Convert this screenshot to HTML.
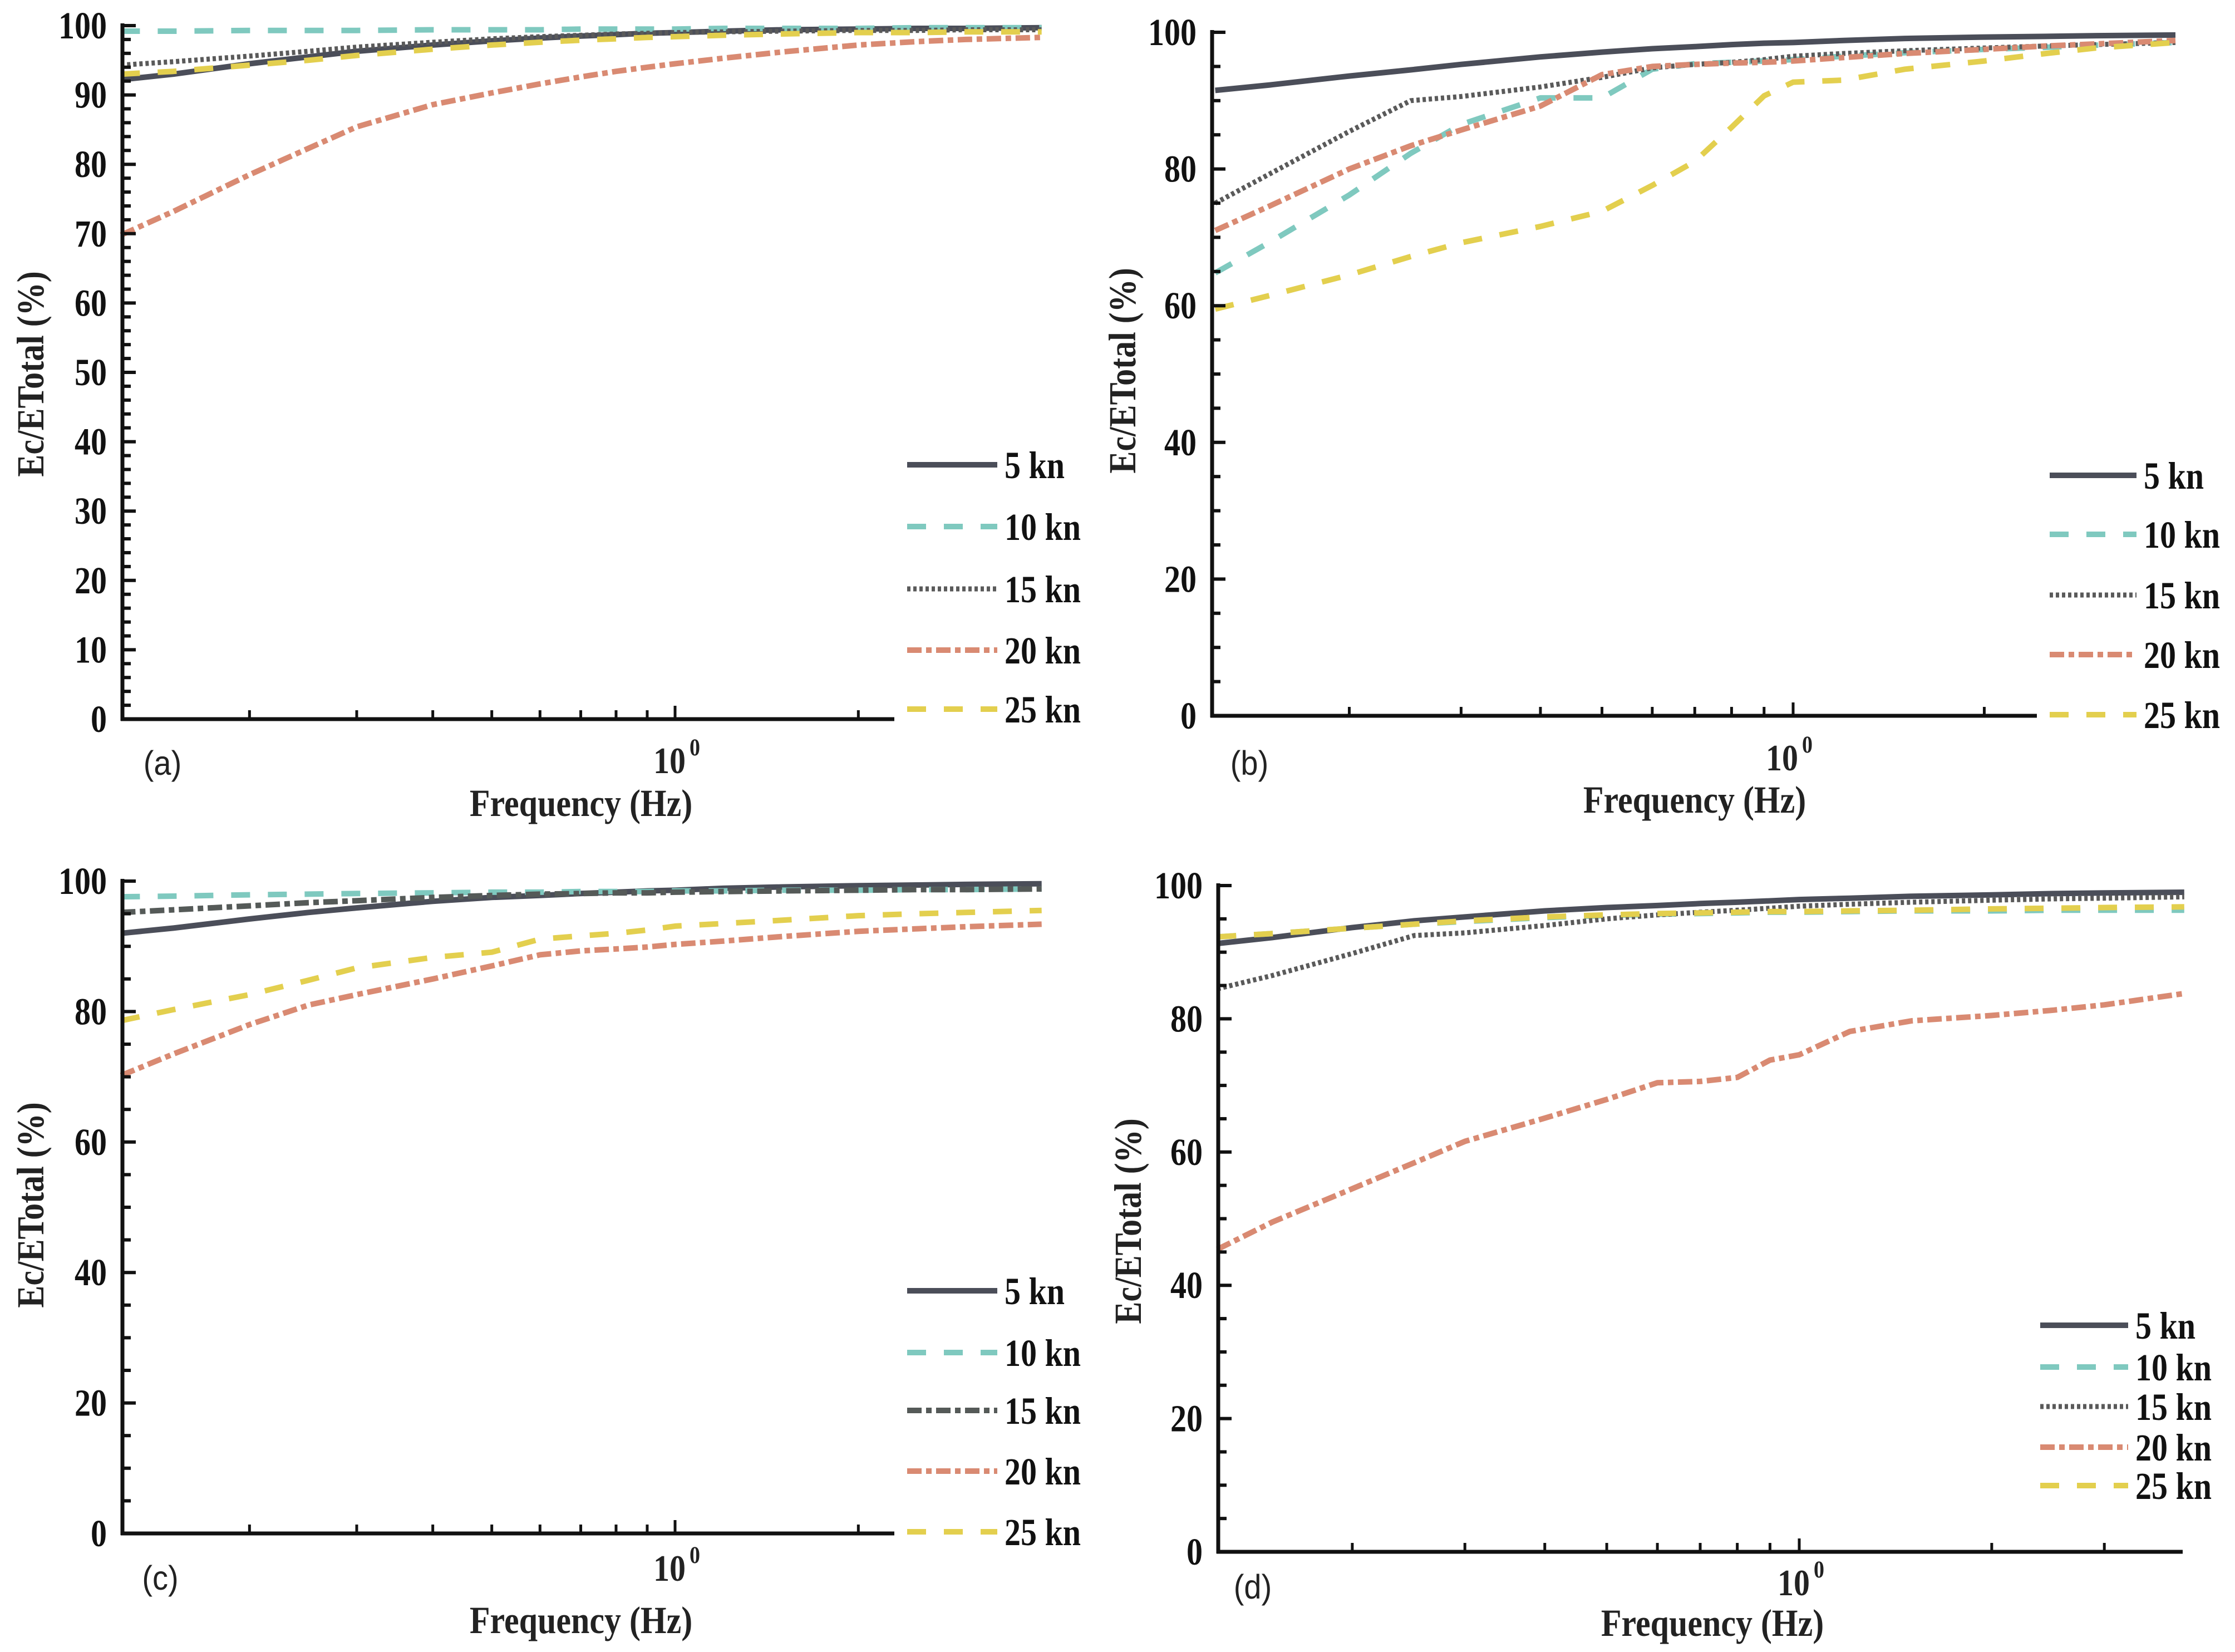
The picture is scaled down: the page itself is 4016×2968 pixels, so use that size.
<!DOCTYPE html>
<html><head><meta charset="utf-8">
<style>
html,body{margin:0;padding:0;background:#fff;}
svg{display:block;}
.tk{font-family:"Liberation Serif",serif;font-weight:bold;font-size:58px;fill:#111;}
.lg{font-family:"Liberation Serif",serif;font-weight:bold;font-size:58px;fill:#111;}
.ti{font-family:"Liberation Serif",serif;font-weight:bold;font-size:60px;fill:#222;}
.pl{font-family:"Liberation Sans Narrow","Liberation Sans",sans-serif;font-size:56px;fill:#222;}
.dec{font-family:"Liberation Serif",serif;font-weight:bold;font-size:58px;fill:#222;}
</style></head>
<body>
<svg id="root" width="4016" height="2968" viewBox="0 0 4016 2968" xmlns="http://www.w3.org/2000/svg"></svg>
<script>
// Common frequency samples (Hz)
const freqs = [0.123,0.15,0.2,0.25,0.3,0.4,0.5,0.6,0.7,0.8,0.9,1.0,1.2,1.5,2,2.5,3,4];
const seriesNames = ["5 kn","10 kn","15 kn","20 kn","25 kn"];

// Panel (a)
const a5  = [92.2,93,94.5,95.5,96.3,97.2,97.8,98.2,98.5,98.7,98.9,99,99.2,99.4,99.5,99.6,99.6,99.7];
const a10 = [99.2,99.2,99.3,99.3,99.3,99.4,99.4,99.4,99.5,99.5,99.5,99.5,99.6,99.6,99.6,99.7,99.7,99.7];
const a15 = [94.3,94.8,95.6,96.3,96.9,97.6,98.1,98.4,98.6,98.8,98.9,99,99.1,99.2,99.3,99.3,99.4,99.4];
const a20 = [69.8,73.2,78.5,82.3,85.4,88.6,90.3,91.6,92.6,93.4,94,94.5,95.3,96.2,97.2,97.7,98,98.3];
const a25 = [93,93.4,94.3,95,95.7,96.6,97.2,97.6,97.9,98.1,98.3,98.4,98.6,98.8,99,99,99.1,99.1];
// Panel (b)
const b5  = [91.5,92.3,93.6,94.5,95.3,96.4,97.1,97.6,97.9,98.2,98.4,98.5,98.8,99.1,99.3,99.4,99.5,99.6];
const b10 = [64.8,69.3,76.2,82.3,86.5,90.4,90.4,94.6,95.4,95.6,95.8,96,96.5,97,97.5,97.8,98.1,98.5];
const b15 = [75,79.3,85.5,90,90.6,92,93.4,94.8,95.3,95.6,96,96.5,96.9,97.3,97.7,98,98.2,98.5];
const b20 = [71,74.6,80,83.4,85.7,89.2,93.8,95,95.3,95.5,95.6,95.8,96.3,96.9,97.5,98,98.3,98.8];
const b25 = [59.5,61.5,64.5,67.2,69.2,71.6,73.8,77.6,81.1,86.1,90.7,92.7,93,94.6,95.8,96.9,97.7,98.5];
// Panel (c)
const c5  = [92,92.8,94.2,95.2,95.9,96.9,97.5,97.8,98.1,98.3,98.5,98.6,98.9,99.1,99.3,99.4,99.5,99.6];
const c10 = [97.6,97.7,97.9,98,98.1,98.2,98.3,98.3,98.4,98.4,98.4,98.5,98.5,98.6,98.6,98.7,98.7,98.8];
const c15 = [95.2,95.6,96.2,96.7,97,97.5,97.8,98,98.1,98.2,98.2,98.3,98.4,98.5,98.6,98.7,98.7,98.8];
const c20 = [70.2,73.5,78,81,82.6,85,87,88.7,89.3,89.6,89.9,90.3,90.8,91.5,92.3,92.7,93,93.4];
const c25 = [78.6,80.3,82.6,84.8,86.7,88.3,89.1,91.1,91.6,92,92.5,93.1,93.5,94,94.7,95,95.2,95.5];
// Panel (d)
const d5  = [91.3,92.2,93.7,94.7,95.3,96.2,96.7,97,97.3,97.5,97.7,97.9,98.1,98.4,98.6,98.8,98.9,99];
const d10 = [92.3,92.8,93.6,94.2,94.6,95.2,95.5,95.7,95.8,95.9,96,96,96.1,96.2,96.2,96.3,96.3,96.3];
const d15 = [84.5,86.5,89.8,92.5,92.9,94,95,95.6,96,96.3,96.6,96.9,97.2,97.5,97.8,98,98.1,98.3];
const d20 = [45.4,49.5,54.5,58.4,61.6,65.1,67.9,70.4,70.6,71.2,73.8,74.6,78.1,79.7,80.5,81.3,82.1,83.8];
const d25 = [92.3,92.8,93.6,94.2,94.7,95.3,95.6,95.8,95.9,96,96.1,96.1,96.2,96.3,96.5,96.6,96.7,96.8];

const yTicksA = [0,10,20,30,40,50,60,70,80,90,100];
const yTicksB = [0,20,40,60,80,100];
const xMinor = [0.2,0.3,0.4,0.5,0.6,0.7,0.8,0.9,2,3];

const NS = "http://www.w3.org/2000/svg";
const root = document.getElementById('root');
function mk(tag, attrs, parent){
  const e = document.createElementNS(NS, tag);
  for (const k in attrs) e.setAttribute(k, attrs[k]);
  (parent||root).appendChild(e);
  return e;
}
// text stretched vertically to mimic condensed bold Times
function tx(x, y, anchor, cls, str, parent, sy, rot){
  const tr = 'translate('+x+','+y+')' + (rot?' rotate(-90)':'') + ' scale(1,'+(sy||1.18)+')';
  const t = mk('text',{x:0,y:0,'text-anchor':anchor,class:cls,transform:tr},parent);
  t.textContent = str;
  return t;
}

const styles = [
  {stroke:"#4b4e59", dash:"none", w:10},
  {stroke:"#7fc9bf", dash:"34 32", w:10},
  {stroke:"#5a5a5a", dash:"6 5", w:9},
  {stroke:"#d98a72", dash:"26 8 10 8", w:10},
  {stroke:"#e3cf4e", dash:"34 32", w:10}
];
const stylesC15 = {stroke:"#555a58", dash:"26 8 10 8", w:10};

const panels = [
  {id:"a", ax:220, yTop:46, yBot:1292, xOne:1213, dec:1094, axEnd:1607,
   ticks:yTicksA, minorStep:2, data:[a5,a10,a15,a20,a25],
   legX:1630, legX2:1792, legTx:1805, legY:[835,946,1058,1168,1274],
   lab:[292,1392], decPos:[1213,1385], freqPos:[1044,1462], ytPos:[58,672]},
  {id:"b", ax:2178, yTop:58, yBot:1286, xOne:3222, dec:1141, axEnd:3660,
   ticks:yTicksB, minorStep:5, data:[b5,b10,b15,b20,b25],
   legX:3683, legX2:3839, legTx:3852, legY:[854,960,1069,1176,1284],
   lab:[2245,1392], decPos:[3212,1380], freqPos:[3045,1456], ytPos:[2020,666]},
  {id:"c", ax:220, yTop:1583, yBot:2755, xOne:1213, dec:1094, axEnd:1607,
   ticks:yTicksB, minorStep:5, data:[c5,c10,c15,c20,c25],
   legX:1630, legX2:1792, legTx:1805, legY:[2319,2430,2534,2643,2752],
   lab:[288,2856], decPos:[1213,2836], freqPos:[1044,2930], ytPos:[58,2165]},
  {id:"d", ax:2189, yTop:1591, yBot:2788, xOne:3233, dec:1149, axEnd:3922,
   ticks:yTicksB, minorStep:5, data:[d5,d10,d15,d20,d25],
   legX:3666, legX2:3824, legTx:3837, legY:[2381,2456,2527,2600,2669],
   lab:[2251,2872], decPos:[3233,2862], freqPos:[3077,2935], ytPos:[2030,2194]}
];

panels.forEach(p=>{
  const g = mk('g',{});
  
  
  const xs = f => p.xOne + p.dec*Math.log10(f);
  const ys = v => p.yBot - (p.yBot-p.yTop)*v/100;

  // series
  p.data.forEach((arr,i)=>{
    const st = (p.id==="c" && i===2) ? stylesC15 : styles[i];
    const d = arr.map((v,j)=>(j?'L':'M')+xs(freqs[j]).toFixed(1)+' '+ys(v).toFixed(1)).join(' ');
    const path = mk('path',{d:d, fill:'none', stroke:st.stroke, 'stroke-width':st.w,
      'stroke-dasharray':st.dash, 'stroke-linejoin':'round'}, g);
    
    
  });

  // axes
  const ya = mk('line',{x1:p.ax,y1:p.yTop-4,x2:p.ax,y2:p.yBot+3,stroke:'#111','stroke-width':7},g);
  
  
  const xa = mk('line',{x1:p.ax-3,y1:p.yBot,x2:p.axEnd,y2:p.yBot,stroke:'#111','stroke-width':7},g);
  
  

  // y ticks
  for (let v=0; v<=100; v+=p.minorStep){
    const major = p.ticks.indexOf(v)>=0;
    mk('line',{x1:p.ax,y1:ys(v),x2:p.ax+(major?24:15),y2:ys(v),stroke:'#111','stroke-width':6},g);
  }
  p.ticks.forEach(v=>{
    const t = tx(p.ax-28, ys(v)+23, 'end', 'tk', String(v), g);
    
    
  });
  // x ticks
  xMinor.forEach(f=>{
    const x = xs(f);
    if (x < p.axEnd-5) mk('line',{x1:x,y1:p.yBot,x2:x,y2:p.yBot-16,stroke:'#111','stroke-width':5},g);
  });
  mk('line',{x1:xs(1),y1:p.yBot,x2:xs(1),y2:p.yBot-24,stroke:'#111','stroke-width':5},g);

  // legend
  p.legY.forEach((y,i)=>{
    const st = (p.id==="c" && i===2) ? stylesC15 : styles[i];
    const l = mk('line',{x1:p.legX,y1:y,x2:p.legX2,y2:y,stroke:st.stroke,'stroke-width':st.w,'stroke-dasharray':st.dash},g);
    
    
    const t = tx(p.legTx, y+24, 'start', 'lg', seriesNames[i], g);
    
    
  });

  // labels
  const pl = tx(p.lab[0], p.lab[1], 'middle', 'pl', '('+p.id+')', g, 1.1);
  
  
  const dc = tx(p.decPos[0]-10, p.decPos[1]+4, 'middle', 'dec', '10', g, 1.15);
  
  
  const sup = tx(p.decPos[0]+26, p.decPos[1]-28, 'start', 'dec', '0', g, 1.15);
  sup.setAttribute('style','font-size:38px');
  
  
  const fq = tx(p.freqPos[0], p.freqPos[1]+4, 'middle', 'ti', 'Frequency (Hz)', g, 1.15);
  
  
  const yt = tx(p.ytPos[0]+20, p.ytPos[1], 'middle', 'ti', 'Ec/ETotal (%)', g, 1.15, true);
  
  
});
</script>
</body></html>
